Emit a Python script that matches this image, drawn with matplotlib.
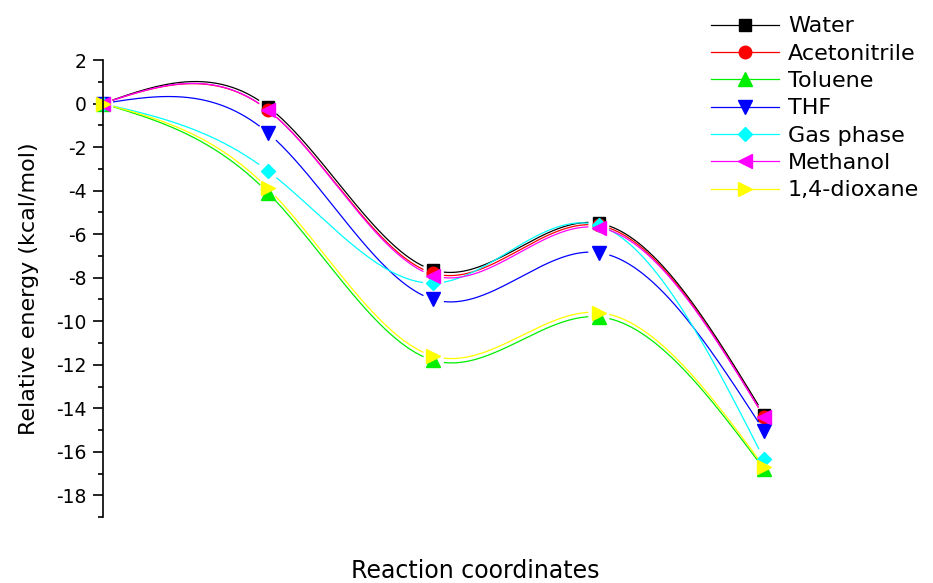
import numpy as np
import matplotlib
matplotlib.use("Agg")
import matplotlib.pyplot as plt
from matplotlib.lines import Line2D

plt.rcParams['font.family'] = ['DejaVu Sans']
plt.rcParams['axes.unicode_minus'] = False

# Reaction path energies (kcal/mol) for each solvent
steps = [0, 1, 2, 3, 4]
water = [0.0, -0.15, -7.65, -5.5, -14.3]
acetonitrile = [0.0, -0.3, -7.8, -5.6, -14.4]
toluene = [0.0, -4.1, -11.8, -9.8, -16.8]
thf = [0.0, -1.35, -9.0, -6.85, -15.05]
gas_phase = [0.0, -3.1, -8.25, -5.6, -16.35]
methanol = [0.0, -0.3, -7.9, -5.7, -14.4]
dioxane = [0.0, -3.9, -11.6, -9.6, -16.7]

series_names = ["Water", "Acetonitrile", "Toluene", "THF", "Gas phase",
                "Methanol", "1,4-dioxane"]
series_values = [water, acetonitrile, toluene, thf, gas_phase, methanol, dioxane]
colors = ["#000000", "#ff0000", "#00ee00", "#0000ff", "#00ffff", "#ff00ff", "#ffff00"]
markers = ["s", "o", "^", "v", "D", "<", ">"]
msizes = [8, 9, 10.5, 10.5, 7.5, 10.5, 10.5]


def natural_spline(x, y, n=300):
    x = np.asarray(x, float)
    y = np.asarray(y, float)
    k = len(x)
    h = np.diff(x)
    A = np.zeros((k, k))
    b = np.zeros(k)
    A[0, 0] = 1.0
    A[-1, -1] = 1.0
    for i in range(1, k - 1):
        A[i, i - 1] = h[i - 1]
        A[i, i] = 2 * (h[i - 1] + h[i])
        A[i, i + 1] = h[i]
        b[i] = 6 * ((y[i + 1] - y[i]) / h[i] - (y[i] - y[i - 1]) / h[i - 1])
    M = np.linalg.solve(A, b)
    xs, ys = [], []
    for i in range(k - 1):
        t = np.linspace(x[i], x[i + 1], n)
        a = (x[i + 1] - t) / h[i]
        c = (t - x[i]) / h[i]
        s = (a * y[i] + c * y[i + 1]
             + ((a ** 3 - a) * M[i] + (c ** 3 - c) * M[i + 1]) * h[i] ** 2 / 6)
        xs.append(t)
        ys.append(s)
    return np.concatenate(xs), np.concatenate(ys)


fig = plt.figure(figsize=(9.33, 5.83), dpi=100)
ax = fig.add_axes([0.110, 0.113, 0.78, 0.784])
ax.set_xlim(0, 4.4)
ax.set_ylim(-19, 2)

gap_px = 11.0
for name, vals, col, mk, ms in zip(series_names, series_values, colors, markers, msizes):
    xs, ys = natural_spline(steps, vals)
    disp = ax.transData.transform(np.column_stack([xs, ys]))
    nodes = ax.transData.transform(np.column_stack([steps, vals]))
    d = np.min(np.hypot(disp[:, None, 0] - nodes[None, :, 0],
                        disp[:, None, 1] - nodes[None, :, 1]), axis=1)
    ys_gap = np.where(d < gap_px, np.nan, ys)
    ax.plot(xs, ys_gap, color=col, lw=0.9, clip_on=False)
    ax.plot(steps, vals, linestyle="none", marker=mk, markersize=ms,
            color=col, markeredgecolor=col, clip_on=False)

for side in ["top", "right", "bottom"]:
    ax.spines[side].set_visible(False)
ax.spines["left"].set_linewidth(1.2)
ax.set_xticks([])
ax.set_yticks(np.arange(-18, 3, 2))
ax.set_yticks(np.arange(-19, 2, 2), minor=True)
ax.tick_params(axis="y", which="major", length=7.5, width=1.2, pad=4, labelsize=13.5)
ax.tick_params(axis="y", which="minor", length=3.8, width=1.2)
ax.set_ylabel("Relative energy (kcal/mol)", fontsize=16)
ax.yaxis.set_label_coords(-0.088, 0.5)
fig.text(0.509, 0.0, "Reaction coordinates", fontsize=17, ha="center", va="bottom")

handles = [Line2D([0], [0], color=c, lw=0.9, marker=m, markersize=ms,
                  markeredgecolor=c)
           for c, m, ms in zip(colors, markers, msizes)]
fig.legend(handles, series_names, loc="upper left", bbox_to_anchor=(0.762, 0.972),
           frameon=False, fontsize=16, handlelength=3.05, labelspacing=0.33,
           handletextpad=0.42, borderaxespad=0, borderpad=0)

fig.savefig("out.png", dpi=100)
